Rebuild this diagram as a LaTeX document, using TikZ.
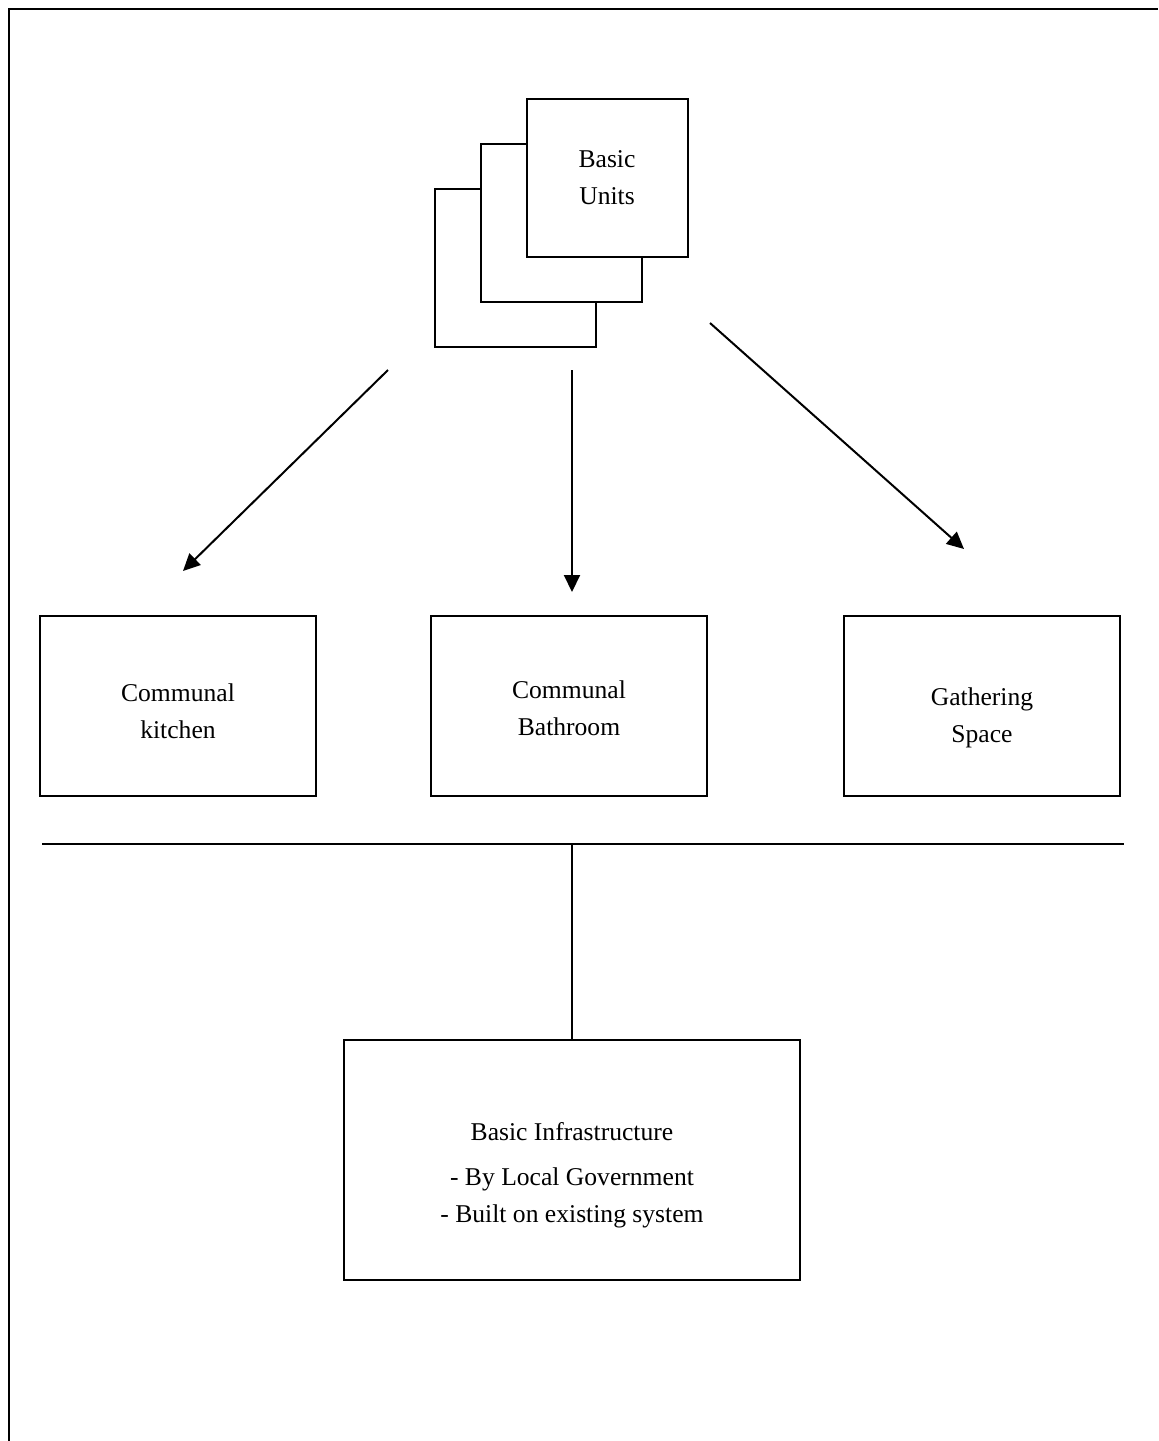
\documentclass[tikz,border=0pt]{standalone}
\usepackage{fontspec}
\setmainfont{Liberation Serif}
\usetikzlibrary{arrows.meta}

\begin{document}
\begin{tikzpicture}[x=0.5pt,y=-0.5pt,font=\fontsize{12.8}{18.5}\selectfont,
  box/.style={draw,line width=1pt,minimum width=138pt,minimum height=90pt,inner sep=0pt},
  unit/.style={draw,fill=white,line width=1pt,minimum width=80.5pt,minimum height=79pt,align=center,inner sep=0pt},
  arr/.style={line width=1pt,-{Triangle[length=8.5pt,width=8pt]}}]

  \useasboundingbox (0,0) rectangle (1158,1441);
  \draw[line width=1.3pt] (9,1441) -- (9,9) -- (1158,9);

  
  \node[unit] (unit3) at (515,268) {};
  \node[unit] (unit2) at (561,223) {};
  \node[unit] (unit1) at (607,178) {Basic\\Units};

  
  \node[box,label={[align=center,yshift=-2.5pt]center:Communal\\kitchen}] (kitchen) at (178,706) {};
  \node[box,label={[align=center,yshift=-1pt]center:Communal\\Bathroom}] (bathroom) at (569,706) {};
  \node[box,label={[align=center,yshift=-6pt]center:Gathering\\Space}] (gathering) at (982,706) {};

  \coordinate (from1) at (388,370);
  \coordinate (to1) at (183,571);
  \coordinate (from2) at (572,370);
  \coordinate (to2) at (572,592);
  \coordinate (from3) at (710,323);
  \coordinate (to3) at (964,549);
  \draw[arr] (from1) -- (to1);
  \draw[arr] (from2) -- (to2);
  \draw[arr] (from3) -- (to3);

  
  \node[box,minimum width=228pt,minimum height=120pt,
    label={[align=center,yshift=-7.5pt]center:Basic Infrastructure\\[4pt]- By Local Government\\- Built on existing system}]
    (infra) at (572,1160) {};

  \coordinate (busL) at (42,844);
  \coordinate (busR) at (1124,844);
  \coordinate (bus) at (572,844);
  \draw[line width=1pt] (busL) -- (busR);
  \draw[line width=1pt] (bus) -- (infra.north);
\end{tikzpicture}
\end{document}
